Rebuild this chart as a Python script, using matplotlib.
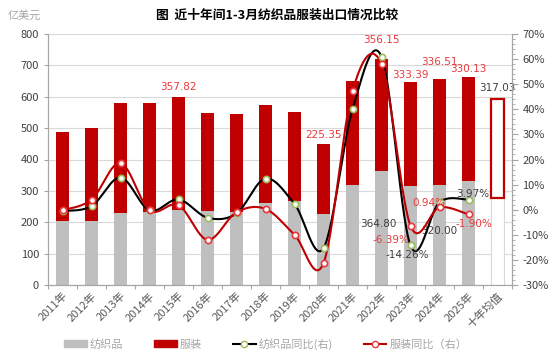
import numpy as np
import matplotlib
matplotlib.use("Agg")
import matplotlib.pyplot as plt
from matplotlib.patches import Patch
from matplotlib.lines import Line2D
from matplotlib.ticker import MultipleLocator, FuncFormatter

plt.rcParams['font.family'] = ['Noto Sans CJK SC', 'DejaVu Sans']
plt.rcParams['axes.unicode_minus'] = False

categories = ['2011年', '2012年', '2013年', '2014年', '2015年', '2016年', '2017年', '2018年',
              '2019年', '2020年', '2021年', '2022年', '2023年', '2024年', '2025年', '十年均值']
textile = [204, 204, 231, 232, 240, 235, 233, 260, 268, 225, 320, 364.80, 315, 320.00, 333, 276]
apparel = [283, 295, 349, 348, 357.82, 312, 312, 314, 282, 225.35, 331, 356.15, 333.39, 336.51, 330.13, 317.03]
textile_yoy = [-0.5, 1.4, 12.8, -0.3, 4.1, -3.2, -1.5, 12.4, 2.3, -15.3, 40.0, 61.0, -14.26, 3.0, 3.97]
apparel_yoy = [-0.2, 4.0, 18.6, -0.2, 1.8, -12.0, -1.0, 0.3, -10.0, -21.3, 47.3, 58.0, -6.39, 0.94, -1.90]

GRAY = '#BFBFBF'
RED = '#C00000'
LRED = '#E8383D'
GREEN = '#9BBB59'
TXT = '#404040'


def smooth(x, y, n=30):
    pts = np.column_stack([x, y]).astype(float)
    out = []
    for i in range(len(pts) - 1):
        p0 = pts[i - 1] if i > 0 else pts[i]
        p1 = pts[i]
        p2 = pts[i + 1]
        p3 = pts[i + 2] if i + 2 < len(pts) else pts[i + 1]
        c1 = p1 + (p2 - p0) / 6
        c2 = p2 - (p3 - p1) / 6
        t = np.linspace(0, 1, n)[:, None]
        seg = (1 - t) ** 3 * p1 + 3 * (1 - t) ** 2 * t * c1 + 3 * (1 - t) * t ** 2 * c2 + t ** 3 * p2
        out.append(seg if i == 0 else seg[1:])
    return np.vstack(out)


fig = plt.figure(figsize=(5.54, 3.58), dpi=100)
ax = fig.add_axes([48 / 554, 1 - 285 / 358, (512 - 48) / 554, (285 - 34) / 358])
ax2 = ax.twinx()

x = np.arange(len(categories))
w = 0.42
n = len(categories)
tcolors = [GRAY] * (n - 1) + ['white']
tedges = [GRAY] * (n - 1) + ['#D9D9D9']
acolors = [RED] * (n - 1) + ['white']
ax.bar(x, textile, w, color=tcolors, edgecolor=tedges, linewidth=[0] * (n - 1) + [0.8], zorder=2)
ax.bar(x, apparel, w, bottom=textile, color=acolors, edgecolor=[RED] * n,
       linewidth=[0] * (n - 1) + [1.6], zorder=2)

ax.set_xlim(-0.5, n - 0.5)
ax.set_ylim(0, 800)
ax.yaxis.set_major_locator(MultipleLocator(100))
ax.grid(axis='y', color='#D9D9D9', linewidth=0.8, zorder=0)
ax.set_axisbelow(True)

ax.set_xticks(np.arange(-0.5, n, 1.0))
ax.set_xticklabels([])
ax.set_xticks(x, minor=True)
ax.set_xticklabels(categories, minor=True, rotation=45, ha='right', va='top',
                   rotation_mode='anchor', fontsize=8, color='#595959')
ax.tick_params(axis='x', which='minor', length=0, pad=4)
ax.tick_params(axis='x', which='major', length=3, color='#A6A6A6')
ax.tick_params(axis='y', labelsize=8, labelcolor=TXT, length=3, color='#A6A6A6')

for s in ['top']:
    ax.spines[s].set_visible(False)
    ax2.spines[s].set_visible(False)
for a in (ax, ax2):
    for s in ['left', 'right', 'bottom']:
        a.spines[s].set_color('#A6A6A6')

ax2.set_ylim(-30, 70)
ax2.yaxis.set_major_locator(MultipleLocator(10))
ax2.yaxis.set_minor_locator(MultipleLocator(2))
ax2.yaxis.set_major_formatter(FuncFormatter(lambda v, p: f'{v:.0f}%'))
ax2.tick_params(axis='y', which='major', labelsize=8, labelcolor=TXT, length=4, color='#A6A6A6')
ax2.tick_params(axis='y', which='minor', length=2, color='#A6A6A6')

xl = np.arange(len(textile_yoy))
s1 = smooth(xl, textile_yoy)
s2 = smooth(xl, apparel_yoy)
ax2.plot(s1[:, 0], s1[:, 1], color='black', lw=1.5, zorder=3)
ax2.plot(s2[:, 0], s2[:, 1], color=RED, lw=1.5, zorder=3)
ax2.plot(xl, textile_yoy, ls='none', marker='o', ms=4.5, mfc='white', mec=GREEN, mew=1.2, zorder=4)
ax2.plot(xl, apparel_yoy, ls='none', marker='o', ms=4.5, mfc='white', mec=LRED, mew=1.2, zorder=4)

# bar value labels (apparel)
tops = [t + a for t, a in zip(textile, apparel)]
lab_offsets = {4: 4, 9: 3, 11: 10, 12: 1, 13: 9, 14: 2, 15: 4}
for i, off in lab_offsets.items():
    col = TXT if i == n - 1 else LRED
    ax.annotate(f'{apparel[i]:.2f}', (x[i], tops[i]), xytext=(0, off), textcoords='offset points',
                ha='center', va='bottom', fontsize=7.5, color=col, family='DejaVu Sans', zorder=5)
# textile labels (inside bar centre)
for i, dx in [(11, -2), (13, 0)]:
    ax.annotate(f'{textile[i]:.2f}', (x[i], textile[i] / 2), xytext=(dx, 3), textcoords='offset points',
                ha='center', va='center', fontsize=7.5, color=TXT, family='DejaVu Sans', zorder=5)

# yoy labels
ax2.annotate('-14.26%', (12, textile_yoy[12]), xytext=(-2, -7), textcoords='offset points',
             ha='center', va='center', fontsize=7.5, color=TXT, family='DejaVu Sans', zorder=5)
ax2.annotate('-6.39%', (12, apparel_yoy[12]), xytext=(-14, -10), textcoords='offset points',
             ha='center', va='center', fontsize=7.5, color=LRED, family='DejaVu Sans', zorder=5)
ax2.annotate('0.94%', (13, apparel_yoy[13]), xytext=(-8, 3), textcoords='offset points',
             ha='center', va='center', fontsize=7.5, color=LRED, family='DejaVu Sans', zorder=5)
ax2.annotate('3.97%', (14, textile_yoy[14]), xytext=(3, 4), textcoords='offset points',
             ha='center', va='center', fontsize=7.5, color=TXT, family='DejaVu Sans', zorder=5)
ax2.annotate('-1.90%', (14, apparel_yoy[14]), xytext=(4, -7), textcoords='offset points',
             ha='center', va='center', fontsize=7.5, color=LRED, family='DejaVu Sans', zorder=5)

fig.text(277 / 554, 1 - 15 / 358, '图  近十年间1-3月纺织品服装出口情况比较', ha='center', va='center',
         fontsize=9.2, fontweight='bold', color='black')
fig.text(8 / 554, 1 - 16 / 358, '亿美元', ha='left', va='center', fontsize=8, color='#A6A6A6')

handles = [Patch(color=GRAY), Patch(color=RED),
           Line2D([], [], color='black', lw=1.5, marker='o', ms=4.5, mfc='white', mec=GREEN),
           Line2D([], [], color=RED, lw=1.5, marker='o', ms=4.5, mfc='white', mec=LRED)]
labels = ['纺织品', '服装', '纺织品同比(右)', '服装同比（右）']
leg = fig.legend(handles, labels, loc='center', bbox_to_anchor=(266 / 554, 1 - 344 / 358), ncol=4,
                 frameon=False, fontsize=8, handlelength=2.0, handleheight=0.6, columnspacing=2.8,
                 handletextpad=0.3)
for t in leg.get_texts():
    t.set_color('#A6A6A6')

fig.savefig('out.png', dpi=100)
